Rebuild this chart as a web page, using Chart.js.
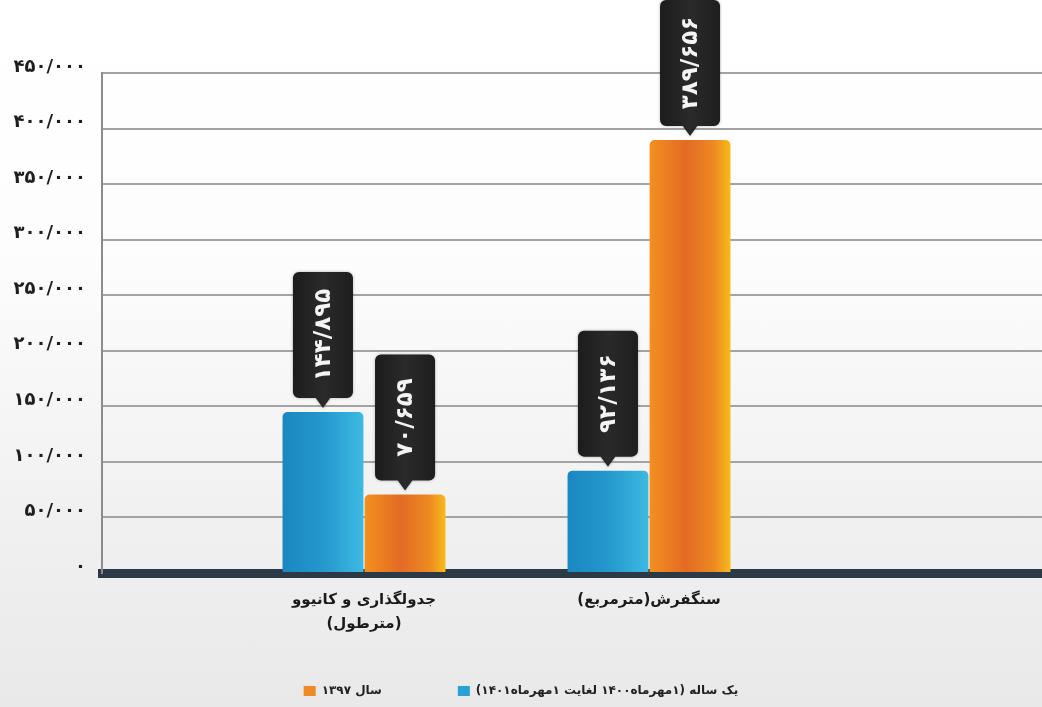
<!DOCTYPE html>
<html lang="fa">
<head>
<meta charset="utf-8">
<script src="https://cdn.jsdelivr.net/npm/chart.js@4/dist/chart.umd.min.js"></script>
<style>
html,body{margin:0;padding:0;}
body{width:1042px;height:707px;overflow:hidden;background:linear-gradient(to bottom,#ffffff 0%,#fdfdfd 35%,#f1f1f1 72%,#e9e9e9 100%);}
canvas{display:block;direction:rtl;}
</style>
</head>
<body>
<canvas id="c" width="1042" height="707"></canvas>
<script>
// ---- data ----
const categories = [['جدولگذاری و کانیوو', '(مترطول)'], ['سنگفرش(مترمربع)']];
const seriesNames = ['یک ساله (۱مهرماه۱۴۰۰ لغایت ۱مهرماه۱۴۰۱)', 'سال ۱۳۹۷'];
const oneYearValues = [144895, 92136];
const year1397Values = [70659, 389656];
const yMin = 0, yMax = 450000, yStep = 50000;

// ---- layout / style ----
const X_MIN = 0.0807, X_MAX = 3.3789;
const CAT_PCT = 0.576, BAR_PCT = 0.985;
const X_AXIS_H = 72;
const FONT = '"DejaVu Sans", sans-serif';
const blueStops = [[0, '#1a88c0'], [0.5, '#2497cd'], [1, '#3dbae3']];
const orangeStops = [[0, '#f2901f'], [0.45, '#e46a25'], [0.8, '#ed8a22'], [1, '#f7bb1a']];
const legendColors = ['#2aa0d4', '#f08a22'];

const FA = '۰۱۲۳۴۵۶۷۸۹';
function faNum(n) {
  const s = String(Math.round(n)).replace(/\B(?=(\d{3})+(?!\d))/g, '/');
  return s.replace(/\d/g, d => FA[+d]);
}

function barFill(stops) {
  return (c) => {
    const chart = c.chart, xs = chart.scales && chart.scales.x;
    if (c.type !== 'data' || !xs || !chart.chartArea || !c.raw) return stops[1][1];
    const unit = Math.abs(xs.getPixelForValue(2) - xs.getPixelForValue(1));
    const group = unit * CAT_PCT, chunk = group / 2;
    const cx = xs.getPixelForValue(c.raw.x);
    const left = cx - group / 2 + c.datasetIndex * chunk + chunk * (1 - BAR_PCT) / 2;
    const w = chunk * BAR_PCT;
    const g = chart.ctx.createLinearGradient(left, 0, left + w, 0);
    stops.forEach(([o, col]) => g.addColorStop(o, col));
    return g;
  };
}

const calloutPlugin = {
  id: 'callouts',
  afterDatasetsDraw(chart) {
    const ctx = chart.ctx;
    chart.data.datasets.forEach((ds, di) => {
      const meta = chart.getDatasetMeta(di);
      meta.data.forEach((bar, i) => {
        const v = ds.data[i].y;
        const cx = bar.x, top = bar.y;
        const bw = 60, bh = 126, gap = 14, r = 6;
        const bottom = top - gap, y0 = bottom - bh;
        ctx.save();
        ctx.shadowColor = 'rgba(0,0,0,0.3)';
        ctx.shadowBlur = 3;
        const g = ctx.createLinearGradient(cx - bw / 2, 0, cx + bw / 2, 0);
        g.addColorStop(0, '#1c1c1c'); g.addColorStop(0.5, '#2a2a2a'); g.addColorStop(1, '#1e1e1e');
        ctx.fillStyle = g;
        ctx.beginPath();
        ctx.roundRect(cx - bw / 2, y0, bw, bh, r);
        ctx.moveTo(cx - 8, bottom - 1);
        ctx.lineTo(cx + 8, bottom - 1);
        ctx.lineTo(cx, bottom + 10);
        ctx.closePath();
        ctx.fill();
        ctx.restore();
        ctx.save();
        ctx.translate(cx, y0 + bh / 2);
        ctx.rotate(-Math.PI / 2);
        ctx.fillStyle = '#f4f4f4';
        ctx.font = 'bold 23px ' + FONT;
        ctx.direction = 'ltr';
        ctx.letterSpacing = '1px';
        ctx.textAlign = 'center';
        ctx.textBaseline = 'middle';
        ctx.fillText(faNum(v), 0, 1);
        ctx.restore();
      });
    });
  }
};

const datasetsSrc = [oneYearValues, year1397Values];
const stopsSrc = [blueStops, orangeStops];

new Chart(document.getElementById('c'), {
  type: 'bar',
  data: {
    datasets: datasetsSrc.map((vals, di) => ({
      label: seriesNames[di],
      data: categories.map((c, i) => ({ x: i + 1, y: vals[i] })),
      backgroundColor: barFill(stopsSrc[di]),
      borderWidth: 0,
      borderRadius: { topLeft: 5, topRight: 5, bottomLeft: 0, bottomRight: 0 },
      borderSkipped: 'start',
      categoryPercentage: CAT_PCT,
      barPercentage: BAR_PCT
    }))
  },
  options: {
    responsive: false,
    animation: false,
    layout: { padding: { top: 73, left: 0, right: 0, bottom: 0 } },
    plugins: {
      tooltip: { enabled: false },
      legend: {
        position: 'bottom',
        reverse: true,
        textDirection: 'rtl',
        labels: {
          font: { family: FONT, weight: 'bold', size: 12 },
          color: '#222',
          boxWidth: 12,
          boxHeight: 10,
          padding: 40,
          generateLabels: (chart) => Chart.defaults.plugins.legend.labels.generateLabels(chart).map(l => ({
            ...l,
            text: (l.datasetIndex === 1 ? '\u2003\u2003\u2003' : '') + l.text,
            fillStyle: legendColors[l.datasetIndex], strokeStyle: legendColors[l.datasetIndex], lineWidth: 0
          }))
        }
      }
    },
    scales: {
      x: {
        type: 'linear',
        min: X_MIN,
        max: X_MAX,
        offset: false,
        z: 1,
        grid: { display: false, drawTicks: false },
        border: { display: true, color: '#2b3a46', width: 9 },
        afterBuildTicks: (s) => { s.ticks = categories.map((c, i) => ({ value: i + 1 })); },
        afterFit: (s) => { s.height = X_AXIS_H; },
        ticks: {
          callback: (v) => categories[Math.round(v) - 1] || '',
          font: { family: FONT, weight: 'bold', size: 15, lineHeight: 1.6 },
          color: '#1a1a1a',
          padding: 15,
          maxRotation: 0,
          autoSkip: false
        }
      },
      y: {
        min: yMin,
        max: yMax,
        afterFit: (s) => { s.width = 102; },
        grid: { color: '#a3a3a3', lineWidth: 2, drawTicks: false },
        border: { display: true, color: '#8c8c8c', width: 2 },
        ticks: {
          stepSize: yStep,
          callback: (v) => faNum(v),
          font: { family: FONT, weight: 'bold', size: 18 },
          color: '#1e1e1e',
          padding: 16,
          labelOffset: -6
        }
      }
    }
  },
  plugins: [calloutPlugin]
});
</script>
</body>
</html>
